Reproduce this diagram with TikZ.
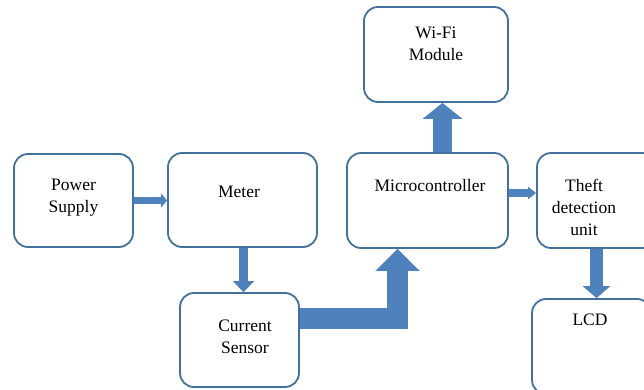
\documentclass[tikz,border=0pt]{standalone}
\usepackage{fontspec}
\setmainfont{Liberation Serif}
\usetikzlibrary{arrows.meta}
\definecolor{boxline}{RGB}{65,113,156}
\definecolor{arrowblue}{RGB}{79,129,189}

\tikzset{
  blk/.style={draw=boxline, line width=1.8pt, rounded corners=14pt, fill=white},
  txt/.style={align=center, font=\fontsize{17.5}{22}\selectfont, inner sep=0pt},
  flow/.style={draw=arrowblue, line join=miter},
}

\begin{document}
\begin{tikzpicture}[x=1pt, y=-1pt]
    \useasboundingbox (0, 0) rectangle (644, 390);
    \clip (0, 0) rectangle (644, 390);

    % boxes
    \node [blk, minimum width=119, minimum height=93] (pw) at (73.5, 200.5) {};
    \node [blk, minimum width=149, minimum height=94] (mt) at (242.5, 200) {};
    \node [blk, minimum width=119, minimum height=94] (cs) at (239.5, 340) {};
    \node [blk, minimum width=161, minimum height=95] (mc) at (427.5, 200.5) {};
    \node [blk, minimum width=144, minimum height=95] (wf) at (436, 54.5) {};
    \node [blk, minimum width=119, minimum height=95] (td) at (596.5, 200.5) {};
    \node [blk, minimum width=119, minimum height=95] (lcd) at (591.5, 346.5) {};

    % texts
    \node [txt] (pwt) at (73.5, 198) {Power\\Supply};
    \node [txt] (mtt) at (239, 192) {Meter};
    \node [txt] (cst) at (245, 337) {Current\\Sensor};
    \node [txt] (mct) at (430, 186) {Microcontroller};
    \node [txt] (wft) at (436, 44) {Wi-Fi\\Module};
    \node [txt] (tdt) at (584, 207) {Theft\\detection\\unit};
    \node [txt] (lcdt) at (590, 320) {LCD};

    % arrows
    \draw [flow, line width=7pt, -{Triangle[length=6pt, width=14pt]}] (pw.east) -- (pw.east -| mt.west);
    \draw [flow, line width=9pt, -{Triangle[length=11pt, width=21pt]}] ([xshift=1pt]mt.south) -- ([xshift=1pt]mt.south |- cs.north);
    \draw [flow, line width=21pt, -{Triangle[length=22pt, width=43pt]}] ([yshift=21.5pt]cs.east) -| ([xshift=-30pt]mc.south);
    \draw [flow, line width=19pt, -{Triangle[length=16pt, width=39pt]}] ([xshift=15pt]mc.north) -- ([xshift=15pt]mc.north |- wf.south);
    \draw [flow, line width=8pt, -{Triangle[length=8pt, width=12pt]}] ([yshift=7.5pt]mc.east) -- ([yshift=7.5pt]mc.east -| td.west);
    \draw [flow, line width=13pt, -{Triangle[length=12pt, width=27pt]}] (td.south) -- (td.south |- lcd.north);
\end{tikzpicture}
\end{document}
